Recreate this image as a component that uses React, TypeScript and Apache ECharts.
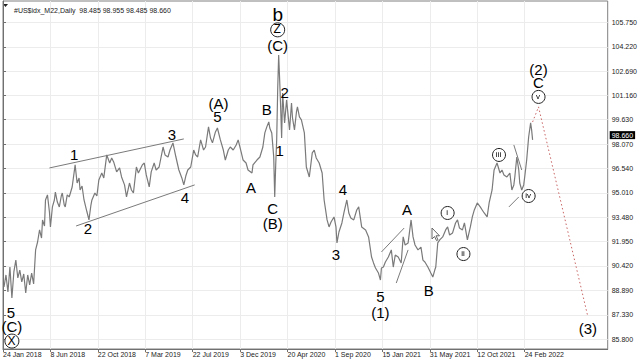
import { useEffect, useRef } from "react";
import * as echarts from "echarts";

const headerText = "#US$idx_M22,Daily  98.485 98.955 98.485 98.660";
const lastPrice = 98.66;

const dateLabels = [
  "24 Jan 2018", "8 Jun 2018", "22 Oct 2018", "7 Mar 2019", "22 Jul 2019", "3 Dec 2019",
  "20 Apr 2020", "1 Sep 2020", "15 Jan 2021", "31 May 2021", "12 Oct 2021", "24 Feb 2022",
];
const dateTickBars = [0, 96, 192, 288, 384, 480, 576, 672, 768, 864, 960, 1056];
const priceTicks = [85.8, 87.33, 88.89, 90.42, 91.95, 93.48, 95.01, 96.54, 98.07, 99.63, 101.16, 102.69, 104.22, 105.75];

// bar index (trading days since 24 Jan 2018) and price readings
const barIndex = [
  2, 6, 10, 14, 18, 22, 26, 30, 34, 38, 42, 46, 50, 54, 58, 62, 66, 70, 74, 78, 80, 84, 86, 90, 94, 96,
  100, 104, 106, 110, 114, 118, 120, 124, 126, 130, 134, 140, 146, 150, 154, 156, 160, 164, 170, 174,
  178, 180, 186, 190, 194, 200, 204, 210, 216, 220, 224, 230, 236, 240, 246, 250, 256, 260, 264, 270,
  274, 282, 286, 290, 296, 300, 306, 310, 316, 324, 328, 334, 338, 344, 350, 356, 362, 366, 370, 374,
  380, 386, 390, 394, 400, 406, 410, 416, 420, 424, 430, 434, 440, 446, 450, 456, 460, 466, 472, 476,
  482, 486, 492, 496, 504, 506, 514, 520, 526, 530, 534, 538, 540, 544, 548, 550, 552, 554, 556, 558,
  560, 562, 564, 566, 570, 574, 580, 584, 586, 590, 594, 596, 600, 604, 610, 614, 620, 626, 630, 634,
  640, 646, 650, 656, 660, 664, 670, 674, 676, 680, 686, 690, 696, 700, 704, 710, 716, 720, 726, 734,
  740, 746, 750, 754, 760, 764, 766, 770, 774, 780, 786, 790, 794, 800, 806, 810, 814, 820, 826, 830,
  834, 840, 846, 850, 854, 860, 866, 870, 874, 876, 880, 884, 890, 896, 900, 904, 910, 916, 920, 924,
  930, 934, 940, 946, 950, 954, 960, 966, 970, 974, 980, 984, 990, 994, 1000, 1006, 1010, 1014, 1020,
  1026, 1030, 1034, 1036, 1040, 1044, 1046, 1050, 1054, 1056, 1060, 1064, 1068, 1070, 1072,
];
const closes = [
  89.08, 89.84, 88.77, 90.34, 88.39, 90.03, 90.78, 89.65, 90.15, 89.4, 89.9, 88.7, 89.84, 89.21, 89.96, 89.27, 91.42, 91.92, 92.68, 92.17, 93.31, 92.93, 94.57, 94.89, 93.81, 92.87,
  94.13, 94.57, 95.07, 94.44, 94.13, 94.82, 95.01, 94.25, 94.13, 94.89, 94.76, 95.39, 96.78, 95.64, 95.96, 95.2, 95.45, 94.57, 93.81, 93.31,
  94.25, 94.57, 95.01, 94.82, 95.83, 96.27, 95.96, 97.41, 96.9, 97.22, 96.97, 96.34, 96.59, 96.02, 95.52, 94.76, 95.64, 95.2, 95.01, 96.65,
  96.27, 96.78, 96.9, 96.15, 95.39, 96.34, 96.9, 96.46, 96.65, 97.91, 97.41, 97.28, 97.72, 98.17, 97.28, 96.46, 95.96, 95.52, 96.08, 96.46,
  96.65, 97.72, 97.41, 97.28, 98.36, 97.72, 97.91, 99.18, 98.48, 98.17, 98.86, 99.11, 98.36, 97.72, 97.09, 97.72, 97.91, 97.72, 98.04, 98.36,
  97.6, 97.09, 96.9, 96.46, 96.27, 96.78, 97.09, 97.28, 97.91, 98.8, 99.18, 99.49, 99.11, 98.8, 97.28, 94.76, 96.78, 98.36, 101.51, 103.72,
  102.14, 100.44, 98.48, 101.32, 99.43, 100.88, 98.99, 100.69, 99.74, 98.99, 100.12, 100.44, 99.81, 99.62, 98.8, 96.65, 96.02, 97.54, 97.72, 97.22,
  96.9, 96.27, 94.57, 93.31, 92.87, 93.18, 93.5, 92.87, 91.86, 92.55, 93.12, 93.75, 94.57, 93.75, 93.43, 93.31, 93.94, 94.13, 92.87, 92.68,
  92.24, 90.97, 90.6, 90.28, 89.96, 89.52, 90.28, 90.34, 90.66, 90.97, 91.42, 90.34, 91.1, 90.97, 90.6, 92.24, 91.73, 91.86, 93.31, 92.24,
  91.73, 91.42, 91.6, 90.78, 90.66, 90.34, 89.96, 89.71, 90.15, 90.34, 91.86, 92.05, 92.24, 92.68, 92.87, 92.36, 92.49, 93.12, 93.31, 92.8,
  92.68, 93.12, 92.05, 92.87, 93.5, 93.94, 94.38, 94.13, 93.94, 93.75, 93.5, 94.38, 95.2, 96.46, 96.9, 96.27, 96.46, 96.15, 96.02,
  96.27, 95.2, 95.52, 96.02, 97.28, 96.46, 95.64, 95.2, 95.52, 96.02, 97.09, 98.54, 99.43, 98.99, 98.36, 98.66,
];

// Elliott wave labels: [bar, price, text]
const waveLabels: [number, number, string][] = [
  [16, 87.5, "5"], [18, 86.62, "(C)"],
  [144, 97.41, "1"], [172, 92.74, "2"], [342, 98.73, "3"], [368, 94.7, "4"],
  [434, 99.81, "5"], [436, 100.63, "(A)"], [502, 95.33, "A"], [534, 100.25, "B"],
  [546, 94.06, "C"], [546, 93.06, "(B)"], [556, 104.29, "(C)"],
  [560, 97.72, "1"], [570, 101.38, "2"], [674, 91.1, "3"], [688, 95.2, "4"],
  [764, 88.45, "5"], [764, 87.5, "(1)"], [818, 94.0, "A"], [862, 88.83, "B"],
  [1084, 101.95, "C"], [1084, 102.77, "(2)"], [1184, 86.49, "(3)"],
];
const bigLabels: [number, number, string][] = [[556, 106.24, "b"]];
const circledBig: [number, number, string][] = [[556, 105.3, "Z"], [18, 85.67, "X"]];
const circledRoman: [number, number, string][] = [
  [900, 93.75, "i"], [932, 91.16, "ii"], [1004, 97.41, "iii"], [1064, 94.82, "iv"], [1084, 101.07, "v"],
];

// trend lines: [[bar, price], [bar, price]]
const trendLines: [number, number][][] = [
  [[94, 96.59], [366, 98.42]],
  [[148, 92.93], [388, 95.52]],
  [[766, 91.29], [812, 92.8]],
  [[796, 89.33], [820, 91.42]],
  [[1034, 98.04], [1050, 96.46]],
  [[1024, 94.13], [1044, 94.76]],
];
const projection: [number, number][] = [[1072, 99.49], [1084, 100.44], [1184, 87.19]];

const FONT = "Liberation Sans, Arial, sans-serif";

export default function App() {
  const ref = useRef<HTMLDivElement>(null);
  useEffect(() => {
    if (!ref.current) return;
    const chart = echarts.init(ref.current, undefined, { renderer: "svg" });
    const textStyle = (size: number, lh: number, sym: number, shadow: boolean) => ({
      show: true,
      position: [sym / 2, sym / 2],
      align: "center",
      verticalAlign: "middle",
      fontSize: size,
      lineHeight: lh,
      fontFamily: FONT,
      color: "#000",
      textBorderWidth: 0,
      ...(shadow ? { textShadowColor: "rgba(0,0,0,0.05)", textShadowBlur: 1 } : {}),
    });
    const labelSeries = (data: [number, number, string][], size: number, lh: number) => ({
      type: "scatter",
      silent: true,
      colorBy: "series",
      color: "#000",
      symbolSize: 0,
      itemStyle: { opacity: 1, color: "#000" },
      data: data.map((d) => ({
        value: [d[0], d[1]],
        label: { ...textStyle(size, lh, 0, false), formatter: d[2] },
      })),
      labelLayout: { hideOverlap: false },
      emphasis: { disabled: true },
      z: 10,
    });
    const circleSeries = (data: [number, number, string][], sym: number, fs: number, shadow: boolean) => ({
      type: "scatter",
      silent: true,
      colorBy: "series",
      color: "#fff",
      symbol: "circle",
      symbolSize: sym,
      itemStyle: { color: "#fff", borderColor: "#222", borderWidth: 1, opacity: 1 },
      data: data.map((d) => ({
        value: [d[0], d[1]],
        itemStyle: { color: "#fff", borderColor: "#222", borderWidth: 1, opacity: 1 },
        label: { ...textStyle(fs, fs, sym, shadow), formatter: d[2] },
      })),
      emphasis: { disabled: true },
      z: 10,
    });
    chart.setOption({
      animation: false,
      backgroundColor: "#fff",
      title: {
        text: headerText,
        left: 9,
        top: 2,
        textStyle: { fontSize: 7, fontWeight: "normal", color: "#222", fontFamily: FONT },
      },
      grid: {
        left: 1, right: 27, top: 1, bottom: 11,
        show: true, borderColor: "#808080", borderWidth: 1, backgroundColor: "#fff",
      },
      xAxis: {
        type: "value",
        min: 0,
        max: 1224,
        axisLine: { show: true, lineStyle: { color: "#707070" } },
        axisTick: { show: true, customValues: dateTickBars, length: 3, lineStyle: { color: "#707070" } },
        axisLabel: {
          customValues: dateTickBars,
          formatter: (v: number) => dateLabels[dateTickBars.indexOf(v)] ?? "",
          align: "left",
          fontSize: 7,
          color: "#222",
          margin: 2,
          fontFamily: FONT,
          showMinLabel: true,
        },
        splitLine: { show: true, lineStyle: { color: "#ececec", width: 1 } },
      },
      yAxis: {
        type: "value",
        position: "right",
        min: 85.17,
        max: 107.12,
        axisLine: { show: true, lineStyle: { color: "#707070" } },
        axisTick: { show: true, customValues: priceTicks, length: 3, lineStyle: { color: "#707070" } },
        axisLabel: {
          customValues: priceTicks,
          formatter: (v: number) => v.toFixed(3),
          fontSize: 7,
          color: "#222",
          margin: 4,
          fontFamily: FONT,
        },
        splitLine: { show: true, lineStyle: { color: "#ececec", width: 1 } },
      },
      graphic: [
        { type: "polygon", shape: { points: [[3, 4], [8, 4], [5.5, 7]] }, style: { fill: "#222" } },
        {
          type: "polygon",
          shape: { points: [[432, 228], [432, 239], [434.5, 236.5], [436.5, 240.5], [438, 239.8], [436, 235.8], [439.5, 235.8]] },
          style: { fill: "#fff", stroke: "#666", lineWidth: 1 },
          z: 20,
        },
      ],
      series: [
        {
          type: "line",
          silent: true,
          showSymbol: false,
          data: barIndex.map((b, i) => [b, closes[i]]),
          lineStyle: { color: "#7a7a7a", width: 1.2 },
          markLine: {
            silent: true,
            symbol: "none",
            data: [{ yAxis: lastPrice }],
            lineStyle: { color: "transparent", width: 0 },
            label: {
              position: "end",
              formatter: lastPrice.toFixed(3),
              backgroundColor: "#000",
              color: "#fff",
              fontSize: 7,
              fontFamily: FONT,
              padding: [1, 2, 0, 2],
              distance: 2,
            },
          },
        },
        ...trendLines.map((seg) => ({
          type: "line",
          silent: true,
          showSymbol: false,
          data: seg,
          lineStyle: { color: "#7a7a7a", width: 1 },
        })),
        {
          type: "line",
          silent: true,
          showSymbol: false,
          data: projection,
          lineStyle: { color: "#c86464", width: 1, type: [1.5, 2.5] },
        },
        labelSeries(waveLabels, 15, 12),
        labelSeries(bigLabels, 19, 14),
        circleSeries(circledBig, 14, 12, false),
        circleSeries(circledRoman, 13, 8, true),
      ],
    });
    return () => chart.dispose();
  }, []);
  return <div ref={ref} style={{ position: "fixed", left: 0, top: 0, width: 640, height: 360 }} />;
}
